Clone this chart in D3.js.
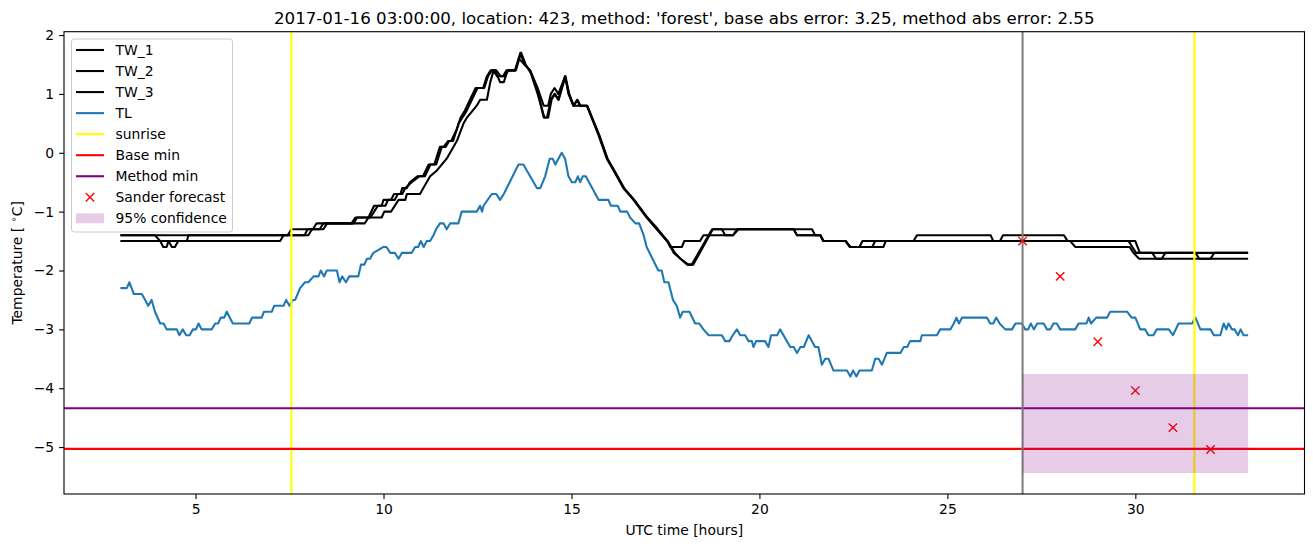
<!DOCTYPE html>
<html lang="en">

<head>
    <meta charset="UTF-8">
    <title>Temperature forecast</title>
    <script src="https://d3js.org/d3.v7.min.js"></script>
    <style>
        body {
            margin: 0;
            background: #ffffff;
        }

        svg {
            display: block;
            font-family: "DejaVu Sans", sans-serif;
        }
    </style>
</head>

<body>
    <svg id="chart" width="1313" height="547"></svg>

    <script>
        // ---- data (hour, temperature) ----
        const tw1 = [[3.0, -1.4], [3.92, -1.4], [4.06, -1.5], [4.28, -1.5], [4.37, -1.6], [4.45, -1.6], [4.54, -1.5], [4.77, -1.5], [4.81, -1.4],
        [7.45, -1.4], [7.55, -1.3], [8.12, -1.3], [8.22, -1.2], [9.15, -1.2], [9.25, -1.1], [9.6, -1.1], [9.75, -0.9], [9.95, -0.9], [10.0, -0.8],
        [10.2, -0.8], [10.28, -0.7], [10.45, -0.7], [10.5, -0.6], [10.62, -0.6], [10.7, -0.5], [10.9, -0.4], [11.05, -0.4], [11.2, -0.2],
        [11.35, -0.2], [11.5, 0.1], [11.6, 0.1], [11.72, 0.2], [11.8, 0.2], [11.95, 0.4], [12.05, 0.6], [12.15, 0.7], [12.3, 0.9], [12.45, 1.1],
        [12.65, 1.1], [12.75, 1.3], [12.85, 1.4], [12.97, 1.4], [13.1, 1.2], [13.2, 1.2], [13.3, 1.4], [13.5, 1.4], [13.64, 1.7], [13.75, 1.5],
        [13.9, 1.4], [14.08, 1.1], [14.26, 0.6], [14.35, 0.6], [14.45, 0.9], [14.55, 1.0], [14.65, 0.9], [14.83, 1.3], [14.92, 1.0], [15.05, 0.8],
        [15.15, 0.9], [15.22, 0.8], [15.41, 0.8], [15.72, 0.3], [15.94, -0.1], [16.12, -0.3], [16.38, -0.6], [16.65, -0.8], [17.0, -1.1],
        [17.27, -1.3], [17.54, -1.5], [17.63, -1.6], [17.94, -1.6], [18.0, -1.5], [18.42, -1.5], [18.51, -1.4], [19.3, -1.4], [19.44, -1.3],
        [20.91, -1.3], [21.0, -1.4], [21.62, -1.4], [21.7, -1.5], [22.28, -1.5], [22.42, -1.6], [22.66, -1.6], [22.74, -1.5], [24.1, -1.5],
        [24.19, -1.4], [26.15, -1.4], [26.22, -1.5], [26.4, -1.5], [26.48, -1.4], [28.1, -1.4], [28.2, -1.5], [29.82, -1.5], [29.92, -1.6],
        [30.02, -1.7], [30.45, -1.7], [30.55, -1.8], [30.7, -1.8], [30.8, -1.7], [33.0, -1.7]];

        const tw2 = [[3.0, -1.4], [7.9, -1.4], [7.98, -1.3], [8.3, -1.3], [8.4, -1.2], [9.2, -1.2], [9.3, -1.1], [9.65, -1.1], [9.75, -1.0],
        [9.85, -0.9], [10.05, -0.9], [10.12, -0.8], [10.3, -0.8], [10.38, -0.7], [10.5, -0.7], [10.58, -0.6], [10.75, -0.5], [10.95, -0.4],
        [11.1, -0.4], [11.25, -0.2], [11.4, -0.2], [11.55, 0.1], [11.65, 0.1], [11.75, 0.2], [11.85, 0.2], [12.0, 0.5], [12.1, 0.6], [12.2, 0.7],
        [12.35, 0.9], [12.5, 1.1], [12.68, 1.1], [12.78, 1.3], [12.88, 1.4], [13.0, 1.4], [13.12, 1.3], [13.22, 1.3], [13.32, 1.4], [13.52, 1.4],
        [13.66, 1.7], [13.78, 1.5], [13.92, 1.35], [14.1, 1.0], [14.28, 0.6], [14.38, 0.6], [14.47, 0.9], [14.56, 1.0], [14.66, 0.9],
        [14.84, 1.3], [14.94, 1.0], [15.06, 0.8], [15.16, 0.9], [15.24, 0.8], [15.42, 0.8], [15.74, 0.3], [15.96, -0.1], [16.14, -0.3],
        [16.4, -0.6], [16.67, -0.8], [17.02, -1.1], [17.3, -1.3], [17.56, -1.5], [17.75, -1.7], [17.9, -1.8], [18.08, -1.9], [18.2, -1.9],
        [18.74, -1.3], [19.0, -1.3], [19.09, -1.4], [19.3, -1.4], [19.4, -1.3], [20.91, -1.3], [21.0, -1.4], [21.62, -1.4], [21.7, -1.5],
        [22.3, -1.5], [22.4, -1.6], [23.0, -1.6], [23.08, -1.5], [28.27, -1.5], [28.4, -1.6], [29.85, -1.6], [29.95, -1.7], [30.1, -1.8],
        [33.0, -1.8]];

        const tw3 = [[3.0, -1.5], [4.06, -1.5], [4.14, -1.6], [4.23, -1.6], [4.28, -1.5], [7.25, -1.5], [7.34, -1.4], [8.0, -1.4], [8.1, -1.3],
        [8.4, -1.3], [8.5, -1.2], [9.5, -1.2], [9.6, -1.1], [9.95, -1.1], [10.02, -1.0], [10.2, -1.0], [10.4, -0.8], [10.58, -0.8],
        [10.62, -0.7], [10.97, -0.7], [11.06, -0.6], [11.24, -0.4], [11.42, -0.3], [11.68, -0.1], [11.95, 0.2], [12.13, 0.5], [12.22, 0.6],
        [12.35, 0.7], [12.48, 0.8], [12.57, 0.9], [12.75, 0.9], [12.84, 1.2], [12.93, 1.4], [13.02, 1.3], [13.18, 1.3], [13.27, 1.4],
        [13.5, 1.4], [13.6, 1.6], [13.75, 1.5], [13.9, 1.4], [14.1, 1.1], [14.26, 0.8], [14.38, 0.8], [14.45, 1.0], [14.55, 1.1], [14.65, 1.0],
        [14.83, 1.3], [14.93, 1.0], [15.05, 0.8], [15.41, 0.8], [15.73, 0.3], [15.95, -0.1], [16.13, -0.3], [16.39, -0.6], [16.66, -0.8],
        [17.01, -1.1], [17.28, -1.3], [17.55, -1.5], [17.72, -1.7], [17.9, -1.8], [18.11, -1.9], [18.24, -1.9], [18.76, -1.3], [21.4, -1.3],
        [21.48, -1.4], [21.62, -1.4], [21.7, -1.5], [22.3, -1.5], [22.42, -1.6], [23.3, -1.6], [23.36, -1.5], [30.0, -1.5], [30.12, -1.7],
        [31.6, -1.7], [31.7, -1.8], [32.0, -1.8], [32.1, -1.7], [33.0, -1.7]];

        const tl = [[3.0, -2.3], [3.17, -2.3], [3.24, -2.2], [3.36, -2.4], [3.57, -2.4], [3.66, -2.5], [3.74, -2.6], [3.83, -2.5], [3.92, -2.7],
        [4.06, -2.9], [4.15, -2.9], [4.23, -3.0], [4.5, -3.0], [4.57, -3.1], [4.66, -3.0], [4.75, -3.1], [4.84, -3.1], [4.93, -3.0], [5.01, -3.0],
        [5.08, -2.9], [5.16, -3.0], [5.43, -3.0], [5.52, -2.9], [5.6, -2.9], [5.67, -2.8], [5.76, -2.8], [5.83, -2.7], [5.99, -2.9], [6.43, -2.9],
        [6.5, -2.8], [6.76, -2.8], [6.82, -2.7], [7.03, -2.7], [7.09, -2.6], [7.34, -2.6], [7.41, -2.5], [7.5, -2.6], [7.59, -2.5], [7.65, -2.5],
        [7.78, -2.3], [7.91, -2.2], [8.0, -2.2], [8.14, -2.1], [8.27, -2.1], [8.33, -2.0], [8.42, -2.1], [8.49, -2.0], [8.76, -2.0], [8.83, -2.2],
        [8.9, -2.1], [9.0, -2.2], [9.09, -2.1], [9.33, -2.1], [9.4, -1.9], [9.49, -1.9], [9.56, -1.8], [9.64, -1.8], [9.73, -1.7], [10.0, -1.6],
        [10.08, -1.6], [10.18, -1.7], [10.3, -1.7], [10.4, -1.8], [10.49, -1.7], [10.75, -1.7], [10.84, -1.6], [10.92, -1.6], [10.99, -1.5],
        [11.07, -1.6], [11.15, -1.5], [11.24, -1.5], [11.33, -1.4], [11.4, -1.3], [11.5, -1.2], [11.6, -1.2], [11.68, -1.3], [11.77, -1.2],
        [11.99, -1.2], [12.08, -1.0], [12.48, -1.0], [12.57, -0.9], [12.62, -1.0], [12.66, -0.9], [12.88, -0.7], [13.0, -0.7], [13.1, -0.8],
        [13.2, -0.7], [13.59, -0.2], [13.72, -0.2], [14.08, -0.6], [14.17, -0.6], [14.3, -0.4], [14.42, -0.1], [14.5, -0.1], [14.57, -0.2],
        [14.74, 0.0], [14.83, -0.1], [14.92, -0.4], [15.01, -0.5], [15.1, -0.5], [15.17, -0.4], [15.23, -0.5], [15.3, -0.4], [15.38, -0.4],
        [15.72, -0.8], [15.98, -0.8], [16.05, -0.9], [16.23, -0.9], [16.3, -1.0], [16.48, -1.0], [16.56, -1.1], [16.7, -1.2], [16.8, -1.2],
        [16.92, -1.4], [17.0, -1.6], [17.31, -2.0], [17.4, -2.0], [17.47, -2.2], [17.58, -2.2], [17.7, -2.5], [17.8, -2.6], [17.89, -2.8],
        [17.96, -2.7], [18.14, -2.7], [18.29, -2.9], [18.4, -2.9], [18.51, -3.0], [18.65, -3.1], [19.0, -3.1], [19.09, -3.2], [19.2, -3.2],
        [19.29, -3.1], [19.4, -3.0], [19.49, -3.1], [19.62, -3.1], [19.71, -3.2], [19.8, -3.2], [19.84, -3.3], [19.91, -3.2], [20.15, -3.2],
        [20.24, -3.3], [20.31, -3.1], [20.47, -3.1], [20.55, -3.0], [20.82, -3.3], [20.91, -3.3], [21.0, -3.4], [21.09, -3.3], [21.18, -3.3],
        [21.31, -3.1], [21.48, -3.3], [21.57, -3.3], [21.66, -3.6], [21.75, -3.5], [21.84, -3.5], [21.97, -3.7], [22.33, -3.7], [22.42, -3.8],
        [22.49, -3.7], [22.58, -3.8], [22.66, -3.7], [22.99, -3.7], [23.08, -3.5], [23.17, -3.5], [23.26, -3.6], [23.39, -3.4], [23.75, -3.4],
        [23.84, -3.3], [23.93, -3.3], [24.01, -3.2], [24.28, -3.2], [24.32, -3.1], [24.72, -3.1], [24.81, -3.0], [25.08, -3.0], [25.17, -2.9],
        [25.24, -2.8], [25.31, -2.9], [25.39, -2.8], [26.05, -2.8], [26.14, -2.9], [26.22, -2.9], [26.3, -2.8], [26.39, -2.9], [26.54, -3.0],
        [26.72, -3.0], [26.81, -2.9], [26.98, -2.9], [27.07, -3.0], [27.15, -3.0], [27.22, -2.9], [27.3, -3.0], [27.39, -2.9], [27.56, -2.9],
        [27.65, -3.0], [27.74, -3.0], [27.82, -2.9], [27.91, -2.9], [28.0, -3.0], [28.4, -3.0], [28.49, -2.9], [28.7, -2.9], [28.76, -2.8],
        [28.82, -2.9], [28.96, -2.8], [29.25, -2.8], [29.33, -2.7], [29.78, -2.7], [29.9, -2.8], [30.0, -2.8], [30.13, -3.0], [30.26, -3.0],
        [30.35, -3.1], [30.48, -3.1], [30.57, -3.0], [30.89, -3.0], [31.0, -3.1], [31.15, -2.9], [31.51, -2.9], [31.6, -2.8], [31.73, -3.0],
        [32.0, -3.0], [32.09, -3.1], [32.26, -3.1], [32.35, -2.9], [32.42, -3.0], [32.48, -2.9], [32.57, -3.0], [32.64, -3.0], [32.73, -3.1],
        [32.8, -3.0], [32.88, -3.1], [33.0, -3.1]];

        const sunriseHours = [7.55, 31.57];
        const baseMin = -5.03;
        const methodMin = -4.34;
        const forecastStart = 27;
        const forecastHours = [27, 28, 29, 30, 31, 32];
        const forecastValues = [-1.5, -2.1, -3.21, -4.04, -4.67, -5.04];
        const confidence = { x0: 27, x1: 33, low: -5.44, high: -3.76 };

        const xTicks = [5, 10, 15, 20, 25, 30];
        const yTicks = [-5, -4, -3, -2, -1, 0, 1, 2];

        const title = "2017-01-16 03:00:00, location: 423, method: 'forest', base abs error: 3.25, method abs error: 2.55";

        function program() {
            const W = 1313, H = 547;
            const margin = { top: 31.7, right: 8.5, bottom: 53, left: 64 };

            const svg = d3.select("#chart");

            // matplotlib style 5% padding on data limits
            const allX = [3, 33];
            const allY = [1.7, confidence.low];
            const xPad = (d3.max(allX) - d3.min(allX)) * 0.05;
            const yPad = (d3.max(allY) - d3.min(allY)) * 0.05;

            const x = d3.scaleLinear()
                .domain([d3.min(allX) - xPad, d3.max(allX) + xPad])
                .range([margin.left, W - margin.right]);
            const y = d3.scaleLinear()
                .domain([d3.min(allY) - yPad, d3.max(allY) + yPad])
                .range([H - margin.bottom, margin.top]);

            const line = d3.line()
                .x(d => x(d[0]))
                .y(d => y(d[1]));

            const plot = svg.append("g");

            // TW lines
            [tw1, tw2, tw3].forEach(s => {
                plot.append("path")
                    .attr("d", line(s))
                    .attr("fill", "none")
                    .attr("stroke", "#000000")
                    .attr("stroke-width", 2.08)
                    .attr("stroke-linejoin", "round");
            });

            plot.append("path")
                .attr("d", line(tl))
                .attr("fill", "none")
                .attr("stroke", "#1f77b4")
                .attr("stroke-width", 2.08)
                .attr("stroke-linejoin", "round");

            // sunrise
            plot.selectAll(".sunrise")
                .data(sunriseHours)
                .join("line")
                .attr("x1", d => x(d)).attr("x2", d => x(d))
                .attr("y1", y.range()[0]).attr("y2", y.range()[1])
                .attr("stroke", "#ffff00")
                .attr("stroke-width", 2.08);

            // horizontal minima
            [[baseMin, "#ff0000"], [methodMin, "#800080"]].forEach(([v, c]) => {
                plot.append("line")
                    .attr("x1", x.range()[0]).attr("x2", x.range()[1])
                    .attr("y1", y(v)).attr("y2", y(v))
                    .attr("stroke", c)
                    .attr("stroke-width", 2.08);
            });

            // forecast start
            plot.append("line")
                .attr("x1", x(forecastStart)).attr("x2", x(forecastStart))
                .attr("y1", y.range()[0]).attr("y2", y.range()[1])
                .attr("stroke", "#808080")
                .attr("stroke-width", 2.08);

            // markers
            const xMark = (cx, cy, r) => `M${cx - r},${cy - r}L${cx + r},${cy + r}M${cx - r},${cy + r}L${cx + r},${cy - r}`;
            plot.selectAll(".fc")
                .data(forecastHours)
                .join("path")
                .attr("d", (d, i) => xMark(x(d), y(forecastValues[i]), 4.2))
                .attr("stroke", "#ff0000")
                .attr("stroke-width", 1.4)
                .attr("fill", "none");

            // confidence band
            plot.append("rect")
                .attr("x", x(confidence.x0))
                .attr("width", x(confidence.x1) - x(confidence.x0))
                .attr("y", y(confidence.high))
                .attr("height", y(confidence.low) - y(confidence.high))
                .attr("fill", "#800080")
                .attr("fill-opacity", 0.2);

            // axes
            const fmt = d3.format("d");
            const xAxis = svg.append("g")
                .attr("transform", `translate(0,${y.range()[0]})`)
                .call(d3.axisBottom(x).tickValues(xTicks).tickFormat(fmt).tickSizeOuter(0).tickSize(4.9).tickPadding(4.9));
            const yAxis = svg.append("g")
                .attr("transform", `translate(${x.range()[0]},0)`)
                .call(d3.axisLeft(y).tickValues(yTicks).tickFormat(fmt).tickSizeOuter(0).tickSize(4.9).tickPadding(4.9));
            [xAxis, yAxis].forEach(a => {
                a.select(".domain").remove();
                a.selectAll("line").attr("stroke", "#000").attr("stroke-width", 1.1);
                a.selectAll("text").attr("font-family", "DejaVu Sans").attr("font-size", 13.9).attr("fill", "#000");
            });

            // frame
            svg.append("rect")
                .attr("x", x.range()[0]).attr("y", y.range()[1])
                .attr("width", x.range()[1] - x.range()[0])
                .attr("height", y.range()[0] - y.range()[1])
                .attr("fill", "none")
                .attr("stroke", "#000")
                .attr("stroke-width", 1.1);

            // labels
            svg.append("text")
                .attr("x", (x.range()[0] + x.range()[1]) / 2)
                .attr("y", 23.5)
                .attr("text-anchor", "middle")
                .attr("font-size", 16.67)
                .text(title);

            svg.append("text")
                .attr("x", (x.range()[0] + x.range()[1]) / 2)
                .attr("y", 535)
                .attr("text-anchor", "middle")
                .attr("font-size", 13.9)
                .text("UTC time [hours]");

            const yl = svg.append("text")
                .attr("transform", `translate(22,${(y.range()[0] + y.range()[1]) / 2}) rotate(-90)`)
                .attr("text-anchor", "middle")
                .attr("font-size", 13.9);
            yl.append("tspan").text("Temperature [ ");
            yl.append("tspan").attr("font-size", 9.7).attr("dy", -5).text("∘");
            yl.append("tspan").attr("dy", 5).text("C]");

            // legend
            const legendItems = [
                { label: "TW_1", type: "line", color: "#000000" },
                { label: "TW_2", type: "line", color: "#000000" },
                { label: "TW_3", type: "line", color: "#000000" },
                { label: "TL", type: "line", color: "#1f77b4" },
                { label: "sunrise", type: "line", color: "#ffff00" },
                { label: "Base min", type: "line", color: "#ff0000" },
                { label: "Method min", type: "line", color: "#800080" },
                { label: "Sander forecast", type: "marker", color: "#ff0000" },
                { label: "95% confidence", type: "patch", color: "#800080" }
            ];
            const lg = svg.append("g");
            lg.append("rect")
                .attr("x", 71.5).attr("y", 39)
                .attr("width", 161).attr("height", 193)
                .attr("rx", 2.8)
                .attr("fill", "#ffffff").attr("fill-opacity", 0.8)
                .attr("stroke", "#cccccc").attr("stroke-width", 1);
            legendItems.forEach((it, i) => {
                const cy = 50 + i * 21.04;
                if (it.type === "line") {
                    lg.append("line")
                        .attr("x1", 76).attr("x2", 104)
                        .attr("y1", cy).attr("y2", cy)
                        .attr("stroke", it.color).attr("stroke-width", 2.08);
                } else if (it.type === "marker") {
                    lg.append("path")
                        .attr("d", xMark(90, cy, 4.2))
                        .attr("stroke", it.color).attr("stroke-width", 1.4).attr("fill", "none");
                } else {
                    lg.append("rect")
                        .attr("x", 76).attr("y", cy - 5)
                        .attr("width", 28).attr("height", 10)
                        .attr("fill", it.color).attr("fill-opacity", 0.2);
                }
                lg.append("text")
                    .attr("x", 115.5).attr("y", cy + 5)
                    .attr("font-size", 13.9)
                    .text(it.label);
            });
        }

        program();
    </script>
</body>

</html>
